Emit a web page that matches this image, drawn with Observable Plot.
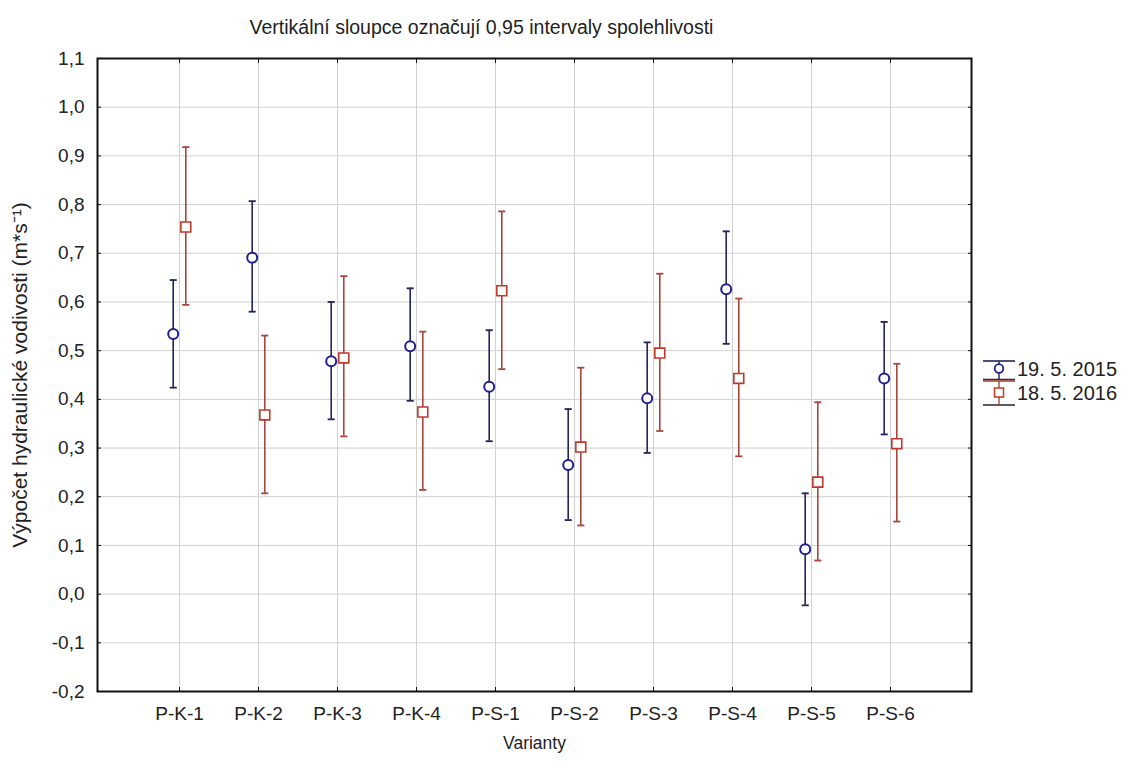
<!DOCTYPE html>
<html>
<head>
<meta charset="utf-8">
<script src="https://cdn.jsdelivr.net/npm/d3@7"></script>
<script src="https://cdn.jsdelivr.net/npm/@observablehq/plot@0.6"></script>
<style>
  html, body { margin: 0; padding: 0; background: #fff; }
  #wrap { position: relative; width: 1122px; height: 764px; }
  #legend { position: absolute; left: 0; top: 0; pointer-events: none; }
</style>
</head>
<body>
<div id="wrap"></div>
<script>
const categories = ["P-K-1", "P-K-2", "P-K-3", "P-K-4", "P-S-1", "P-S-2", "P-S-3", "P-S-4", "P-S-5", "P-S-6"];
const seriesNames = ["19. 5. 2015", "18. 5. 2016"];

const mean2015 = [0.534, 0.691, 0.478, 0.509, 0.426, 0.265, 0.402, 0.626, 0.092, 0.443];
const low2015  = [0.424, 0.580, 0.359, 0.397, 0.314, 0.152, 0.290, 0.514, -0.023, 0.328];
const high2015 = [0.645, 0.807, 0.600, 0.628, 0.542, 0.380, 0.517, 0.745, 0.207, 0.559];

const mean2016 = [0.754, 0.368, 0.485, 0.374, 0.623, 0.302, 0.495, 0.443, 0.230, 0.309];
const low2016  = [0.594, 0.207, 0.324, 0.214, 0.462, 0.141, 0.335, 0.283, 0.069, 0.149];
const high2016 = [0.918, 0.531, 0.653, 0.539, 0.786, 0.465, 0.658, 0.607, 0.394, 0.473];

const yTicks = [-0.2, -0.1, 0, 0.1, 0.2, 0.3, 0.4, 0.5, 0.6, 0.7, 0.8, 0.9, 1.0, 1.1];
const yTickLabels = ["-0,2", "-0,1", "0,0", "0,1", "0,2", "0,3", "0,4", "0,5", "0,6", "0,7", "0,8", "0,9", "1,0", "1,1"];

const title = "Vertikální sloupce označují 0,95 intervaly spolehlivosti";
const yLabel = "Výpočet hydraulické vodivosti (m*s\u207B\u00B9)";
const xLabel = "Varianty";

const blue = "#1f1f8f";
const blueBar = "#23235e";
const red = "#c0392b";
const redBar = "#a8453c";

const rows = (means, lows, highs) => categories.map((c, i) => ({cat: c, mean: means[i], low: lows[i], high: highs[i]}));
const d2015 = rows(mean2015, low2015, high2015);
const d2016 = rows(mean2016, low2016, high2016);

const tickLabelMap = new Map(yTicks.map((t, i) => [t, yTickLabels[i]]));

const capSymbol = {
  draw(ctx, size) {
    const w = Math.sqrt(size) / 2;
    ctx.moveTo(-w, 0);
    ctx.lineTo(w, 0);
  }
};

const off = 6.3;
const seriesMarks = (data, dx, barColor, color, symbol, r, sw) => [
  Plot.ruleX(data, {x: "cat", y1: "low", y2: "high", dx, stroke: barColor, strokeWidth: 1.6}),
  Plot.dot(data, {x: "cat", y: "low", dx, symbol: capSymbol, r: 4, stroke: barColor, strokeWidth: 1.8}),
  Plot.dot(data, {x: "cat", y: "high", dx, symbol: capSymbol, r: 4, stroke: barColor, strokeWidth: 1.8}),
  Plot.dot(data, {x: "cat", y: "mean", dx, symbol, r, stroke: color, fill: "white", strokeWidth: sw})
];

const font = "'Liberation Sans', Arial, sans-serif";

const chart = Plot.plot({
  width: 1122,
  height: 764,
  marginLeft: 97,
  marginRight: 151,
  marginTop: 58,
  marginBottom: 73,
  x: {type: "point", domain: categories, padding: 1},
  y: {domain: [-0.2, 1.1]},
  style: {fontFamily: font, fontSize: "19px", color: "#222", background: "#fff"},
  marks: [
    Plot.gridX(categories, {stroke: "#d0d0d0", strokeOpacity: 1, strokeWidth: 1}),
    Plot.gridY(yTicks, {stroke: "#d0d0d0", strokeOpacity: 1, strokeWidth: 1}),
    Plot.axisY(yTicks, {anchor: "left", tickSize: 0, tickPadding: 13, tickFormat: d => tickLabelMap.get(d), label: null, fontSize: 19}),
    Plot.axisY(yTicks, {anchor: "left", tickSize: -4, tickFormat: () => "", label: null, stroke: "#111"}),
    Plot.axisY(yTicks, {anchor: "right", tickSize: -4, tickFormat: () => "", label: null, stroke: "#111"}),
    Plot.axisX(categories, {anchor: "bottom", tickSize: 0, tickPadding: 15, label: null, fontSize: 19}),
    Plot.axisX(categories, {anchor: "bottom", tickSize: -4, tickFormat: () => "", label: null, stroke: "#111"}),
    Plot.axisX(categories, {anchor: "top", tickSize: -4, tickFormat: () => "", label: null, stroke: "#111"}),
    Plot.frame({stroke: "#111", strokeWidth: 2}),
    ...seriesMarks(d2015, -off, blueBar, blue, "circle", 5, 2),
    ...seriesMarks(d2016, off, redBar, red, "square", 5.6, 1.6),
    Plot.text([title], {frameAnchor: "top", textAnchor: "middle", dy: -38, dx: -53, fontSize: 19.5, fill: "#222"}),
    Plot.text([yLabel], {frameAnchor: "left", textAnchor: "middle", dx: -77, dy: 0, rotate: -90, fontSize: 21, fill: "#222"}),
    Plot.text([xLabel], {frameAnchor: "bottom", textAnchor: "middle", dy: 57, fontSize: 17.5, fill: "#222"})
  ]
});

const wrap = document.getElementById("wrap");
wrap.appendChild(chart);

// Legend
const ns = "http://www.w3.org/2000/svg";
const leg = document.createElementNS(ns, "svg");
leg.setAttribute("id", "legend");
leg.setAttribute("width", 1122);
leg.setAttribute("height", 764);
const add = (tag, attrs, text) => {
  const el = document.createElementNS(ns, tag);
  for (const k in attrs) el.setAttribute(k, attrs[k]);
  if (text != null) el.textContent = text;
  leg.appendChild(el);
  return el;
};
const legendItems = [
  {name: seriesNames[0], cy: 368.5, color: blue, bar: blueBar, shape: "circle"},
  {name: seriesNames[1], cy: 392.5, color: red, bar: redBar, shape: "square"}
];
legendItems.forEach((it, i) => {
  const x0 = 983, x1 = 1015, xm = 999;
  const top = i === 0 ? 361 : 381;
  const bot = i === 0 ? 379.5 : 405;
  add("line", {x1: x0, x2: x1, y1: top, y2: top, stroke: it.bar, "stroke-width": 1.6});
  add("line", {x1: x0, x2: x1, y1: bot, y2: bot, stroke: "#333", "stroke-width": 1.6});
  add("line", {x1: xm, x2: xm, y1: top, y2: bot, stroke: it.bar, "stroke-width": 1.4});
  if (it.shape === "circle") {
    add("circle", {cx: xm, cy: it.cy, r: 4.3, fill: "white", stroke: it.color, "stroke-width": 1.8});
  } else {
    add("rect", {x: xm - 4.5, y: it.cy - 4.5, width: 9, height: 9, fill: "white", stroke: it.color, "stroke-width": 1.5});
  }
  add("text", {x: 1017, y: it.cy, "dominant-baseline": "central", "font-family": font, "font-size": 20, fill: "#222"}, it.name);
});
wrap.appendChild(leg);
</script>
</body>
</html>
